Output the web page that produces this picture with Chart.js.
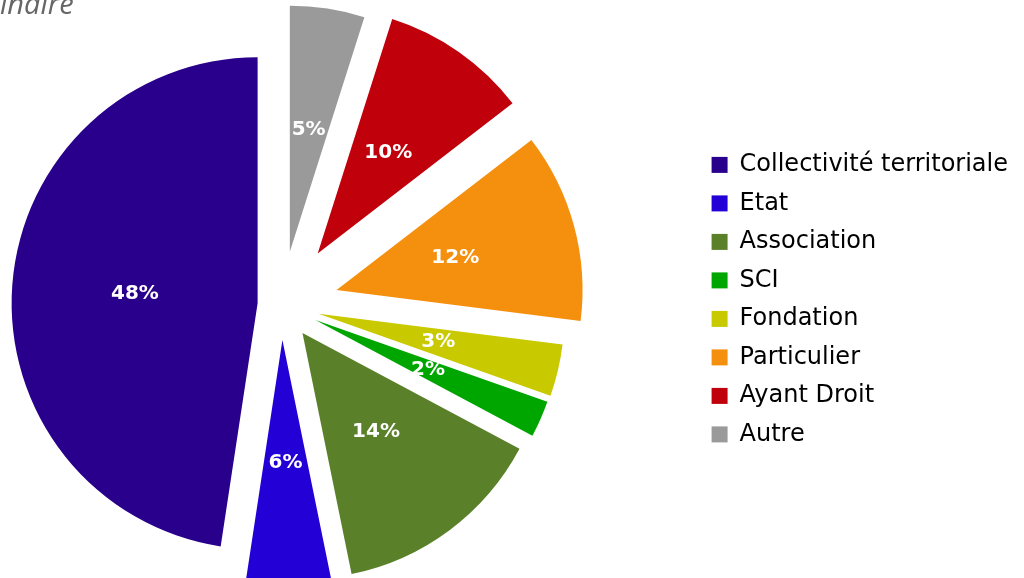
<!DOCTYPE html>
<html>
<head>
<meta charset="utf-8">
<script src="https://cdn.jsdelivr.net/npm/chart.js@4.4.0/dist/chart.umd.min.js"></script>
<style>
  html, body { margin: 0; padding: 0; background: #fff; }
  #wrap { position: relative; width: 1024px; height: 578px; overflow: hidden; }
  #pie { position: absolute; left: -134px; top: 0; }
  #title { position: absolute; left: 0; top: -12px; font: italic 29px 'Open Sans'; line-height: 29px; color: #666; white-space: nowrap; }
</style>
</head>
<body>
<div id="wrap">
  <canvas id="pie" width="1152" height="578"></canvas>
  <div id="title">inaire</div>
</div>
<script>
const labels = ['Collectivité territoriale', 'Etat', 'Association', 'SCI', 'Fondation', 'Particulier', 'Ayant Droit', 'Autre'];
// shares; the labels show them rounded
const shares = [47.6, 5.6, 14.0, 2.4, 3.4, 12.45, 9.65, 4.9];
const colors = ['#29008b', '#2300d6', '#5b802a', '#00a600', '#c9c900', '#f5900f', '#c0000b', '#9a9a9a'];
// how far each slice is pulled out, in px
const explode = [24, 35, 35, 37, 38, 57, 63, 54];

const R = 246;

// pull each slice out along its middle angle (Chart.js' own offset also trims
// the slice angle and grows the radius, which the original does not do)
const explodeSlices = {
  id: 'explodeSlices',
  afterDatasetsUpdate(chart) {
    const pulls = explode.slice().reverse();
    chart.getDatasetMeta(0).data.forEach((arc, i) => {
      const mid = (arc.startAngle + arc.endAngle) / 2;
      arc.x += Math.cos(mid) * pulls[i];
      arc.y += Math.sin(mid) * pulls[i];
    });
  }
};

const sliceLabels = {
  id: 'sliceLabels',
  afterDatasetsDraw(chart) {
    const { ctx } = chart;
    const vals = chart.data.datasets[0].data;
    ctx.save();
    ctx.font = 'bold 20px "DejaVu Sans"';
    ctx.fillStyle = '#fff';
    ctx.textAlign = 'center';
    ctx.textBaseline = 'middle';
    chart.getDatasetMeta(0).data.forEach((arc, i) => {
      const mid = (arc.startAngle + arc.endAngle) / 2;
      const d = arc.outerRadius / 2;
      ctx.fillText(Math.round(vals[i]) + '%', arc.x + Math.cos(mid) * d, arc.y + Math.sin(mid) * d);
    });
    ctx.restore();
  }
};

// the original runs counter-clockwise from the top, so feed it reversed
new Chart(document.getElementById('pie').getContext('2d'), {
  type: 'pie',
  data: {
    labels: labels.slice().reverse(),
    datasets: [{
      data: shares.slice().reverse(),
      backgroundColor: colors.slice().reverse(),
      borderWidth: 0,
      hoverOffset: 0,
    }],
  },
  options: {
    responsive: false,
    animation: false,
    radius: R,
    layout: { padding: { left: 0, right: 0, top: 32, bottom: 0 } },
    plugins: {
      legend: {
        position: 'right',
        align: 'start',
        reverse: true,
        title: { display: true, text: '', padding: { top: 46, bottom: 46 }, font: { size: 12 } },
        labels: {
          boxWidth: 16,
          boxHeight: 16,
          padding: 14.5,
          color: '#000',
          font: { family: 'DejaVu Sans', size: 24 },
        },
      },
      tooltip: { enabled: false },
    },
  },
  plugins: [explodeSlices, sliceLabels],
});
</script>
</body>
</html>
